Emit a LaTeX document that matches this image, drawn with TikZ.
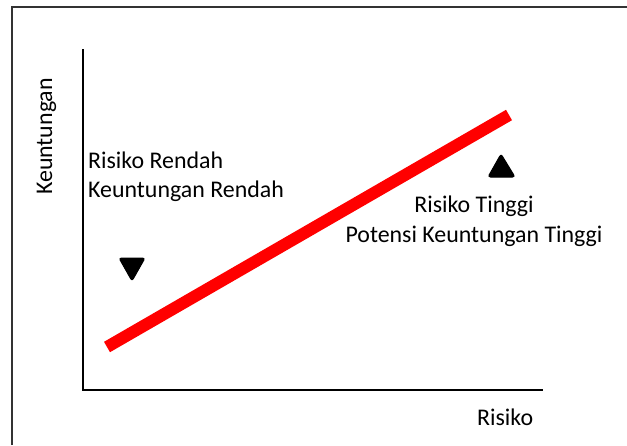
\documentclass[tikz,border=0pt]{standalone}
\usepackage{fontspec}
\setmainfont{Carlito}
\begin{document}
\begin{tikzpicture}[x=1pt,y=-1pt,
  lbl/.style={inner sep=0pt,font=\fontsize{23.9}{30}\selectfont},
  axisline/.style={line width=1.6pt,black},
  tri/.style={fill=black,draw=black,line width=1pt,rounded corners=2.5pt}]
\useasboundingbox (0,0) rectangle (627,445);
% frame
\draw[line width=1.4pt,black!80] (12,445) -- (12,7) -- (627,7);
% axes
\coordinate (ytop) at (83,49);
\coordinate (orig) at (83,390);
\coordinate (xend) at (543,390);
\draw[axisline] (ytop) -- (orig) -- (xend);
% red line
\coordinate (rs) at (107,347);
\coordinate (re) at (509,115);
\draw[red,line width=12pt] (rs) -- (re);
% triangles
\filldraw[tri] (501,154) -- (515,177) -- (488,177) -- cycle;
\filldraw[tri] (119,258) -- (145,258) -- (132,281) -- cycle;
% labels
\node[lbl,anchor=base,rotate=90] (ylab) at (52,136.5) {Keuntungan};
\node[lbl,anchor=base west] (xlab) at (477,425) {Risiko};
\node[lbl,anchor=base west] (l1) at (88,168) {Risiko Rendah};
\node[lbl,anchor=base west] (l2) at (88,197) {Keuntungan Rendah};
\node[lbl,anchor=base] (r1) at (474,212) {Risiko Tinggi};
\node[lbl,anchor=base] (r2) at (474,242) {Potensi Keuntungan Tinggi};
\end{tikzpicture}
\end{document}
